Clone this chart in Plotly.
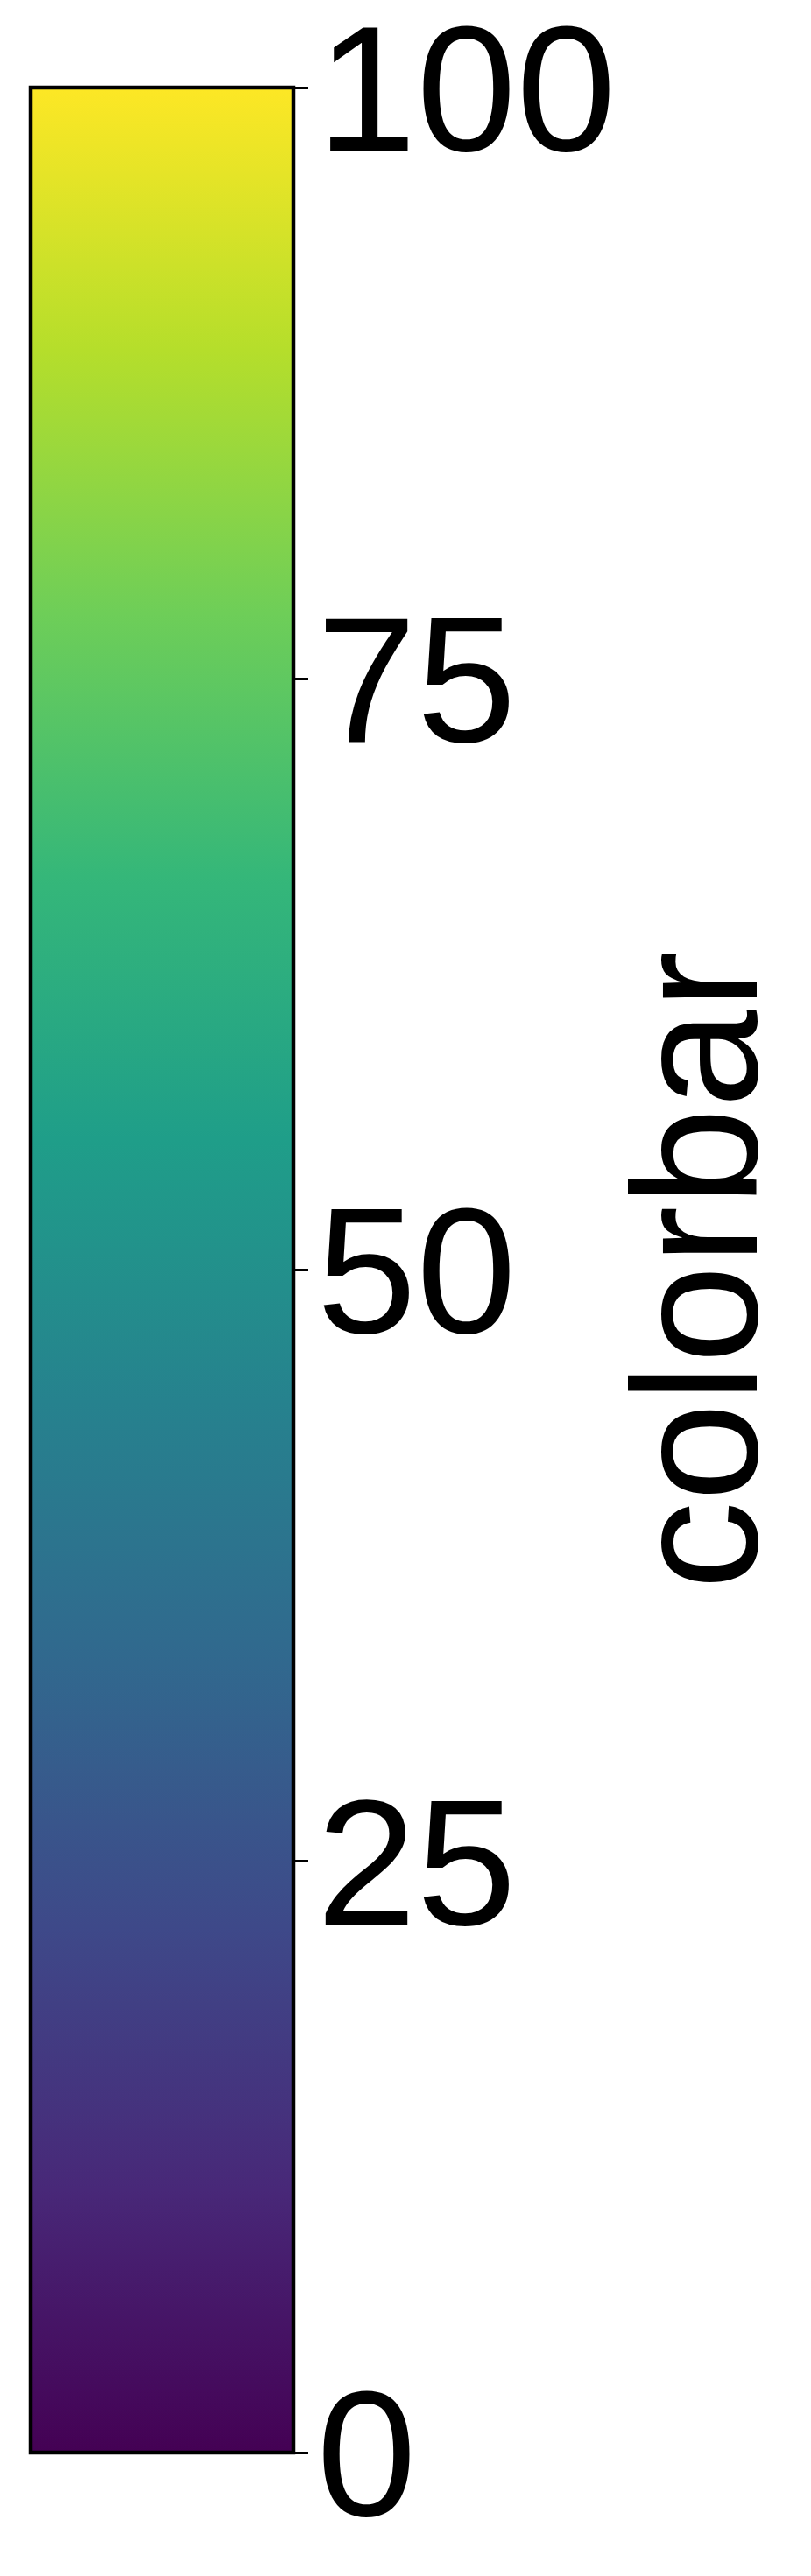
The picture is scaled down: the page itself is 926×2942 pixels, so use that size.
import plotly.graph_objects as go

# Data
cmin_val = 0
cmax_val = 100
tick_vals = [0, 25, 50, 75, 100]
tick_text = ["0", "25", "50", "75", "100"]
bar_title = "colorbar"

W, H = 926, 2942
bar_left = 27
bar_top = 92
bar_bottom = 2793
bar_len = bar_bottom - bar_top
center_from_bottom = H - (bar_top + bar_bottom) / 2
title_bar_left = 744
FONT = "Liberation Sans, Arial"

common = dict(
    xref="container", yref="container",
    x=bar_left / W, xanchor="left",
    y=center_from_bottom / H, yanchor="middle",
    lenmode="pixels", len=bar_len,
    thicknessmode="pixels",
    xpad=0, ypad=0,
    tickvals=tick_vals, ticktext=tick_text,
    ticklabeloverflow="allow",
    tickfont=dict(family=FONT, size=205, color="black"),
)

fig = go.Figure()
# labels bar (underneath)
fig.add_trace(go.Scatter(
    x=[0], y=[0], mode="markers",
    marker=dict(
        color=[cmin_val], colorscale="Viridis", cmin=cmin_val, cmax=cmax_val,
        size=1, opacity=0, showscale=True,
        colorbar=dict(**common, thickness=285, outlinewidth=0, ticks="",
                      showticklabels=True),
    ),
    showlegend=False, hoverinfo="skip",
))
# title holder (transparent bar)
fig.add_trace(go.Scatter(
    x=[0], y=[0], mode="markers",
    marker=dict(
        color=[cmin_val], colorscale=[[0, "rgba(255,255,255,0)"], [1, "rgba(255,255,255,0)"]],
        cmin=cmin_val, cmax=cmax_val,
        size=1, opacity=0, showscale=True,
        colorbar=dict(
            xref="container", yref="container",
            x=title_bar_left / W, xanchor="left",
            y=center_from_bottom / H, yanchor="middle",
            lenmode="pixels", len=bar_len,
            thicknessmode="pixels", thickness=1,
            xpad=0, ypad=0, outlinewidth=0, ticks="", showticklabels=False,
            title=dict(text=bar_title, side="right",
                       font=dict(family=FONT, size=202, color="black")),
        ),
    ),
    showlegend=False, hoverinfo="skip",
))
# main bar with outline and ticks (on top)
fig.add_trace(go.Scatter(
    x=[0], y=[0], mode="markers",
    marker=dict(
        color=[cmin_val], colorscale="Viridis", cmin=cmin_val, cmax=cmax_val,
        size=1, opacity=0, showscale=True,
        colorbar=dict(
            **common, thickness=300, outlinewidth=4.5, outlinecolor="black",
            ticks="outside", ticklen=15, tickwidth=3, tickcolor="black",
            showticklabels=False,
        ),
    ),
    showlegend=False, hoverinfo="skip",
))
fig.update_layout(
    width=W, height=H,
    margin=dict(l=0, r=0, t=0, b=0, autoexpand=False),
    paper_bgcolor="white", plot_bgcolor="white",
    xaxis=dict(visible=False), yaxis=dict(visible=False),
)
fig.write_html("out.html")
